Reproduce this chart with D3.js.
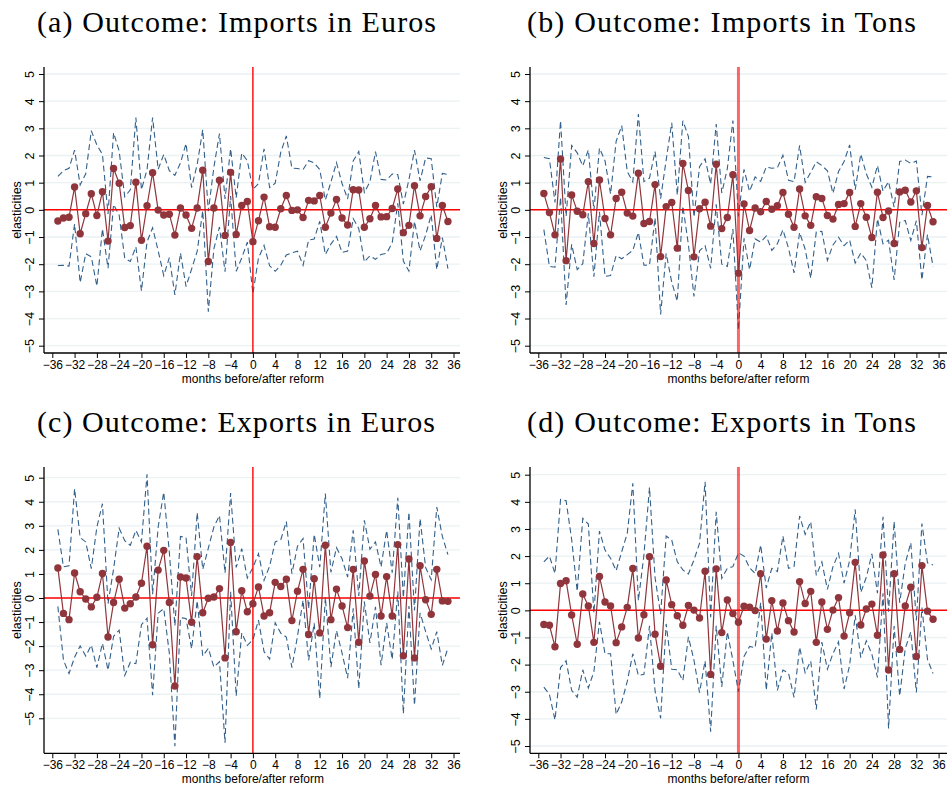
<!DOCTYPE html>
<html>
<head>
<meta charset="utf-8">
<script src="https://cdn.jsdelivr.net/npm/d3@7"></script>
<style>
  body { margin: 0; background: #fff; }
  svg { display: block; }
</style>
</head>
<body>
<svg id="fig" width="947" height="790"></svg>
<script>
// Months relative to the reform
const months = [-35,-34,-33,-32,-31,-30,-29,-28,-27,-26,
  -25,-24,-23,-22,-21,-20,-19,-18,-17,-16,
  -15,-14,-13,-12,-11,-10,-9,-8,-7,-6,
  -5,-4,-3,-2,-1,0,1,2,3,4,
  5,6,7,8,9,10,11,12,13,14,
  15,16,17,18,19,20,21,22,23,24,
  25,26,27,28,29,30,31,32,33,34,35];

const xTicks = [-36,-32,-28,-24,-20,-16,-12,-8,-4,0,4,8,12,16,20,24,28,32,36];
const yTicks = [-5,-4,-3,-2,-1,0,1,2,3,4,5];

const panelTitles = [
  "(a) Outcome: Imports in Euros",
  "(b) Outcome: Imports in Tons",
  "(c) Outcome: Exports in Euros",
  "(d) Outcome: Exports in Tons"
];
const xTitle = "months before/after reform";
const yTitle = "elasticities";

// (a) imports in euros: point estimates and 95% bounds
const importsEurosCoef = [-0.41,-0.30,-0.27,0.84,-0.88,-0.14,0.59,-0.21,0.67,-1.15,
  1.52,0.98,-0.65,-0.58,1.02,-1.12,0.15,1.37,-0.01,-0.19,
  -0.16,-0.93,0.07,-0.19,-0.68,0.07,1.46,-1.90,0.07,1.09,
  -0.94,1.38,-0.91,0.16,0.31,-1.17,-0.40,0.47,-0.62,-0.64,
  0.04,0.53,-0.02,0.00,-0.28,0.35,0.33,0.53,-0.64,-0.12,
  0.38,-0.30,-0.56,0.74,0.73,-0.64,-0.33,0.16,-0.26,-0.25,
  0.05,0.77,-0.84,-0.57,0.89,-0.22,0.49,0.85,-1.05,0.16,-0.43];
const importsEurosUpper = [1.23,1.44,1.53,2.20,0.92,1.33,2.91,2.39,2.04,-0.15,
  2.84,2.16,0.48,0.74,3.40,0.74,1.48,3.40,1.49,2.04,
  1.44,1.27,1.73,2.44,0.82,1.67,2.95,-0.05,1.57,2.81,
  0.40,2.25,0.44,2.09,1.81,0.75,0.97,2.25,0.82,0.98,
  2.12,2.72,1.54,1.52,1.48,1.81,1.73,1.48,0.36,1.02,
  1.74,0.97,0.40,1.80,2.15,0.64,1.03,2.14,1.12,1.10,
  1.32,1.30,0.21,1.11,2.20,1.07,1.91,1.88,0.10,1.34,1.30];
const importsEurosLower = [-2.05,-2.04,-2.07,-0.52,-2.68,-1.61,-1.73,-2.81,-0.70,-2.15,
  0.20,-0.20,-1.78,-1.90,-1.36,-2.98,-1.18,-0.66,-1.51,-2.42,
  -1.76,-3.13,-1.59,-2.82,-2.18,-1.53,-0.03,-3.75,-1.43,-0.63,
  -2.28,0.51,-2.26,-1.77,-1.19,-3.09,-1.77,-1.31,-2.06,-2.26,
  -2.04,-1.66,-1.58,-1.52,-2.04,-1.11,-1.07,-0.42,-1.64,-1.26,
  -0.98,-1.57,-1.52,-0.32,-0.69,-1.92,-1.69,-1.82,-1.64,-1.60,
  -1.22,0.24,-1.89,-2.25,-0.42,-1.51,-0.93,-0.18,-2.20,-1.02,-2.16];

// (b) imports in tons
const importsTonsCoef = [0.60,-0.10,-0.92,1.87,-1.87,0.55,-0.05,-0.18,1.04,-1.24,
  1.10,-0.32,-0.92,0.42,0.65,-0.12,-0.23,1.35,-0.50,-0.43,
  0.93,-1.72,0.12,0.27,-1.41,1.71,0.71,-1.73,0.04,0.28,
  -0.60,1.68,-0.69,-0.28,1.29,-2.33,0.22,-0.76,0.07,-0.07,
  0.31,0.02,0.15,0.64,-0.16,-0.64,0.77,-0.22,-0.57,0.48,
  0.42,-0.21,-0.34,0.20,0.23,0.64,-0.61,0.23,-0.27,-1.02,
  0.65,-0.28,-0.04,-1.24,0.66,0.72,0.29,0.70,-1.39,0.16,-0.44];
const importsTonsUpper = [1.93,1.88,0.27,3.28,-0.24,2.37,2.10,1.62,2.21,-0.02,
  2.27,1.81,0.58,2.52,3.10,1.41,1.03,3.53,1.04,1.17,
  2.15,0.41,1.84,3.20,0.54,3.28,2.70,-0.27,1.59,1.88,
  0.95,3.16,0.62,1.52,3.29,-0.24,1.49,0.68,1.21,1.05,
  1.58,1.53,1.55,2.01,1.09,1.04,2.37,1.01,1.38,1.77,
  1.63,1.44,0.61,1.41,1.78,2.39,0.74,2.05,1.33,0.83,
  1.63,0.69,1.04,0.10,1.78,1.83,1.71,1.80,-0.20,1.23,1.21];
const importsTonsLower = [-0.73,-2.08,-2.11,0.46,-3.50,-1.27,-2.20,-1.98,-0.13,-2.46,
  -0.07,-2.45,-2.42,-1.68,-1.80,-1.65,-1.49,-0.83,-2.04,-2.03,
  -0.29,-3.85,-1.60,-2.66,-3.36,0.14,-1.28,-3.19,-1.51,-1.32,
  -2.15,0.20,-2.00,-2.08,-0.71,-4.42,-1.05,-2.20,-1.07,-1.19,
  -0.96,-1.49,-1.25,-0.73,-1.41,-2.32,-0.83,-1.45,-2.52,-0.81,
  -0.79,-1.86,-1.29,-1.01,-1.32,-1.11,-1.96,-1.59,-1.87,-2.87,
  -0.33,-1.25,-1.12,-2.58,-0.46,-0.39,-1.13,-0.40,-2.58,-0.91,-2.09];

// (c) exports in euros
const exportsEurosCoef = [1.25,-0.64,-0.90,1.04,0.26,-0.04,-0.37,0.03,1.02,-1.62,
  -0.19,0.78,-0.42,-0.24,0.04,0.61,2.15,-1.94,1.16,1.98,
  -0.19,-3.66,0.87,0.83,-1.01,1.72,-0.61,-0.01,0.04,0.39,
  -2.49,2.31,-1.40,0.30,-0.57,-0.24,0.46,-0.75,-0.61,0.65,
  0.48,0.78,-0.94,0.28,1.19,-1.52,0.80,-1.45,2.19,-0.90,
  0.37,-0.33,-1.23,1.19,-1.84,1.54,0.08,0.98,-0.75,0.89,
  -0.75,2.22,-2.40,1.62,-2.49,1.34,-0.07,-0.68,1.19,-0.12,-0.14];
const exportsEurosUpper = [2.85,1.30,1.34,4.54,2.51,2.33,1.22,2.95,3.92,-0.24,
  1.21,2.90,2.38,2.19,2.81,2.33,5.14,0.16,2.95,4.40,
  1.91,-1.16,2.56,2.51,0.09,3.55,1.19,2.07,2.95,3.43,
  1.04,4.36,1.27,2.05,0.83,1.26,1.84,0.73,1.32,2.33,
  2.42,3.18,1.01,2.15,2.47,-0.45,2.65,1.28,4.34,1.07,
  2.09,1.63,0.87,2.81,0.09,3.23,2.03,2.33,1.29,2.81,
  1.05,4.17,0.01,3.57,-0.52,3.30,1.26,0.76,3.78,2.56,1.80];
const exportsEurosLower = [-0.35,-2.58,-3.14,-2.46,-1.99,-2.41,-1.96,-2.89,-1.88,-3.00,
  -1.59,-1.34,-3.22,-2.67,-2.73,-1.11,-0.84,-4.04,-0.63,-0.44,
  -2.29,-6.16,-0.82,-0.85,-2.11,-0.11,-2.41,-2.09,-2.87,-2.65,
  -6.02,0.26,-4.07,-1.45,-1.97,-1.74,-0.92,-2.23,-2.54,-1.03,
  -1.46,-1.62,-2.89,-1.59,-0.09,-2.59,-1.05,-4.18,0.04,-2.87,
  -1.35,-2.29,-3.33,-0.43,-3.77,-0.15,-1.87,-0.37,-2.79,-1.03,
  -2.55,0.27,-4.81,-0.33,-4.46,-0.62,-1.40,-2.12,-1.40,-2.80,-2.08];

// (d) exports in tons
const exportsTonsCoef = [-0.52,-0.55,-1.34,0.99,1.09,-0.17,-1.25,0.60,0.16,-1.18,
  1.25,0.31,0.16,-1.19,-0.61,0.11,1.54,-1.02,-0.16,1.98,
  -0.88,-2.06,1.12,0.21,-0.20,-0.55,0.18,0.01,-0.28,1.44,
  -2.36,1.53,-0.82,0.38,-0.12,-0.44,0.15,0.12,-0.01,1.35,
  -1.06,0.36,-0.76,0.27,-0.38,-0.80,1.06,0.25,0.70,-1.18,
  0.31,-0.70,0.01,0.47,-0.95,-0.09,1.77,-0.54,0.05,0.23,
  -0.92,2.04,-2.20,1.35,-1.44,0.16,0.85,-1.70,1.65,-0.03,-0.33];
const exportsTonsUpper = [1.79,2.00,1.36,4.09,4.04,2.61,0.70,3.39,3.18,-0.10,
  2.92,2.22,1.92,1.46,2.16,2.84,4.68,0.36,2.04,4.53,
  1.21,-0.14,2.74,2.59,1.79,1.49,1.34,1.86,2.47,4.74,
  -0.25,3.63,1.18,1.55,1.61,2.12,2.00,1.57,1.36,2.41,
  0.82,1.55,1.43,2.74,1.55,1.61,3.48,2.80,3.27,1.29,
  1.79,0.77,1.61,2.10,1.00,1.84,3.72,0.66,1.22,2.08,
  0.63,3.45,-0.05,3.28,0.28,1.73,2.49,-0.37,3.20,1.75,1.67];
const exportsTonsLower = [-2.83,-3.10,-4.04,-2.11,-1.86,-2.95,-3.20,-2.19,-2.86,-2.26,
  -0.42,-1.60,-1.60,-3.84,-3.38,-2.62,-1.60,-2.40,-2.36,-0.57,
  -2.97,-3.98,-0.50,-2.17,-2.19,-2.59,-0.98,-1.84,-3.03,-1.86,
  -4.47,-0.57,-2.82,-0.79,-1.85,-3.00,-1.70,-1.33,-1.38,0.29,
  -2.94,-0.83,-2.95,-2.20,-2.31,-3.21,-1.36,-2.30,-1.87,-3.65,
  -1.17,-2.17,-1.59,-1.16,-2.90,-2.02,-0.18,-1.74,-1.12,-1.62,
  -2.47,0.63,-4.35,-0.58,-3.16,-1.41,-0.79,-3.03,0.10,-1.81,-2.33];

const COLORS = {
  point: "#90353b",
  ci: "#33608a",
  zero: "#ff0000",
  grid: "#eaf2f3",
  axis: "#000000"
};

// Panel frames (plot box, scale ranges, title anchor)
const panels = [
  { title: panelTitles[0], coef: importsEurosCoef, upper: importsEurosUpper, lower: importsEurosLower,
    left: 44, right: 460, top: 67, bottom: 353, xr: [52.3, 453.5], yr: [345.7, 74],
    titleX: 37, titleY: 32, titleW: 399, vWide: false },
  { title: panelTitles[1], coef: importsTonsCoef, upper: importsTonsUpper, lower: importsTonsLower,
    left: 530, right: 947, top: 67, bottom: 353, xr: [538.3, 938.6], yr: [345.7, 74],
    titleX: 527, titleY: 32, titleW: 389, vWide: true },
  { title: panelTitles[2], coef: exportsEurosCoef, upper: exportsEurosUpper, lower: exportsEurosLower,
    left: 44, right: 460, top: 467, bottom: 753.3, xr: [52.3, 453.5], yr: [718.3, 477.7],
    titleX: 37, titleY: 432, titleW: 398, vWide: false },
  { title: panelTitles[3], coef: exportsTonsCoef, upper: exportsTonsUpper, lower: exportsTonsLower,
    left: 530, right: 947, top: 467, bottom: 753.3, xr: [538.3, 938.6], yr: [746, 474.7],
    titleX: 527, titleY: 432, titleW: 389, vWide: true }
];

const svg = d3.select("#fig");
svg.append("rect").attr("width", 947).attr("height", 790).attr("fill", "#fff");

const fmt = d3.format("d");
const sans = "'Liberation Sans', Arial, sans-serif";

panels.forEach(p => {
  [p.coef, p.upper, p.lower].forEach(a => {
    if (a.length !== months.length) throw new Error("length mismatch in " + p.title);
  });
  const rows = months.map((m, i) => ({ m, b: p.coef[i], hi: p.upper[i], lo: p.lower[i] }));

  const x = d3.scaleLinear().domain([-36, 36]).range(p.xr);
  const y = d3.scaleLinear().domain([-5, 5]).range(p.yr);
  const g = svg.append("g");

  // title
  g.append("text")
    .attr("x", p.titleX).attr("y", p.titleY)
    .attr("font-family", "'Liberation Serif', 'DejaVu Serif', serif")
    .attr("font-size", 30)
    .attr("textLength", p.titleW)
    .attr("lengthAdjust", "spacing")
    .attr("fill", "#000")
    .text(p.title);

  // horizontal grid
  g.append("g").selectAll("line").data(yTicks).join("line")
    .attr("x1", p.left).attr("x2", p.right)
    .attr("y1", d => y(d)).attr("y2", d => y(d))
    .attr("stroke", COLORS.grid).attr("stroke-width", 1.3);

  // confidence bounds
  const line = acc => d3.line().x(d => x(d.m)).y(d => y(acc(d)));
  [d => d.hi, d => d.lo].forEach(acc => {
    g.append("path").datum(rows)
      .attr("d", line(acc))
      .attr("fill", "none")
      .attr("stroke", COLORS.ci)
      .attr("stroke-width", 1.1)
      .attr("stroke-dasharray", "6,3.5");
  });

  // reference lines at zero
  g.append("line")
    .attr("x1", p.left).attr("x2", p.right)
    .attr("y1", y(0)).attr("y2", y(0))
    .attr("stroke", COLORS.zero).attr("stroke-width", 1.5);
  g.append("line")
    .attr("x1", x(0)).attr("x2", x(0))
    .attr("y1", p.top).attr("y2", p.bottom)
    .attr("stroke", COLORS.zero)
    .attr("stroke-width", p.vWide ? 3 : 1.4)
    .attr("stroke-opacity", p.vWide ? 0.6 : 1);

  // point estimates
  g.append("path").datum(rows)
    .attr("d", line(d => d.b))
    .attr("fill", "none")
    .attr("stroke", COLORS.point)
    .attr("stroke-width", 1.2);
  g.append("g").selectAll("circle").data(rows).join("circle")
    .attr("cx", d => x(d.m)).attr("cy", d => y(d.b))
    .attr("r", 3.7)
    .attr("fill", COLORS.point);

  // y axis
  const yAxis = g.append("g")
    .attr("transform", `translate(${p.left},0)`)
    .call(d3.axisLeft(y).tickValues(yTicks).tickFormat(fmt).tickSize(5).tickSizeOuter(0));
  yAxis.select(".domain").remove();
  yAxis.selectAll(".tick line").attr("stroke", COLORS.axis);
  yAxis.selectAll(".tick text")
    .attr("x", null).attr("dy", null)
    .attr("transform", "translate(-14,0) rotate(-90)")
    .attr("text-anchor", "middle")
    .attr("dominant-baseline", "central")
    .attr("font-family", sans)
    .attr("font-size", 12.5)
    .attr("fill", "#000");
  g.append("line")
    .attr("x1", p.left).attr("x2", p.left)
    .attr("y1", p.top).attr("y2", p.bottom)
    .attr("stroke", COLORS.axis).attr("stroke-width", 1.3);

  // x axis
  const xAxis = g.append("g")
    .attr("transform", `translate(0,${p.bottom})`)
    .call(d3.axisBottom(x).tickValues(xTicks).tickFormat(fmt)
      .tickSize(5).tickPadding(2).tickSizeOuter(0));
  xAxis.select(".domain").remove();
  xAxis.selectAll(".tick line").attr("stroke", COLORS.axis);
  xAxis.selectAll(".tick text")
    .attr("font-family", sans)
    .attr("font-size", 12)
    .attr("fill", "#000");
  g.append("line")
    .attr("x1", p.left).attr("x2", p.right)
    .attr("y1", p.bottom).attr("y2", p.bottom)
    .attr("stroke", COLORS.axis).attr("stroke-width", 1.3);

  // axis titles
  g.append("text")
    .attr("x", (p.xr[0] + p.xr[1]) / 2).attr("y", p.bottom + 30)
    .attr("text-anchor", "middle")
    .attr("font-family", sans)
    .attr("font-size", 12)
    .attr("fill", "#000")
    .text(xTitle);
  g.append("text")
    .attr("transform", `translate(${p.left - 27},${(p.top + p.bottom) / 2}) rotate(-90)`)
    .attr("text-anchor", "middle")
    .attr("dominant-baseline", "central")
    .attr("font-family", sans)
    .attr("font-size", 12.5)
    .attr("fill", "#000")
    .text(yTitle);
});
</script>
</body>
</html>
